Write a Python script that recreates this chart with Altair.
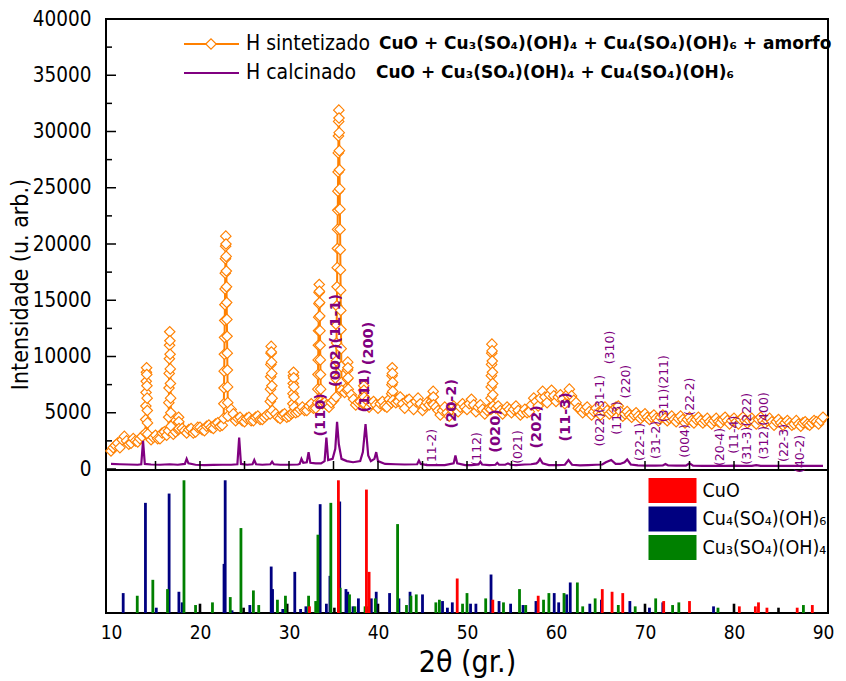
import altair as alt
import pandas as pd

ORANGE = "#FF8000"
PURPLE = "#800080"
FONT = "DejaVu Sans"
FONT_C = "DejaVu Sans Condensed"

# ---------------- H sintetizado (orange) ----------------
# background read every 0.5 deg from 10 to 90, and at the quarter points in between
BG_START, BG_STEP = 10.0, 0.5
sint_bg = [
    1600, 2100, 1900, 2900, 2200, 2700, 2400, 2900, 2800, 2600,
    3000, 2700, 3300, 3100, 3100, 3600, 3600, 3200, 3600, 3300,
    3700, 3400, 3900, 3600, 4100, 3900, 4300, 5300, 4300, 4600,
    4200, 4600, 4300, 4700, 4400, 4800, 4700, 4900, 4500, 4900,
    4700, 4900, 5100, 5500, 5200, 5800, 5400, 5600, 5900, 5500,
    6100, 6000, 7000, 7400, 6600, 5700, 6000, 6500, 5500, 6000,
    5400, 6000, 5500, 6000, 5900, 6400, 5400, 6200, 5300, 6300,
    5200, 5900, 6000, 5500, 4800, 5500, 4700, 5600, 5100, 5800,
    5300, 6200, 5100, 5700, 4900, 5400, 5200, 5600, 4900, 5500,
    5000, 5600, 4800, 5300, 5100, 6300, 5600, 6900, 5900, 7000,
    6000, 6600, 5800, 7100, 6100, 5400, 5000, 5500, 4800, 5400,
    4800, 5500, 4900, 5300, 5600, 4700, 5100, 4600, 5000, 4500,
    4900, 4400, 4800, 4300, 4800, 4300, 4700, 4200, 4700, 4100,
    4600, 4100, 4600, 4100, 4500, 4000, 4500, 4100, 4600, 4000,
    4500, 4000, 4600, 4100, 4500, 4000, 4600, 4100, 4500, 3900,
    4400, 3900, 4300, 3900, 4300, 3800, 4200, 3900, 4300, 4000,
    4600,
]
BG2_START = 10.25
sint_bg2 = [
    1900, 2300, 2600, 2500, 2300, 2500, 2700, 3000, 3000, 2800,
    2700, 3200, 3000, 3400, 3300, 3300, 3400, 3500, 3200, 3700,
    3500, 3800, 3700, 4000, 3800, 4400, 4600, 4900, 4500, 4300,
    4500, 4300, 4600, 4400, 4600, 4500, 4700, 4600, 4800, 4600,
    4900, 5000, 5300, 5200, 5600, 5400, 5700, 5800, 5700, 5900,
    6300, 6600, 6800, 8000, 6200, 5900, 6300, 6100, 5800, 5700,
    5800, 5600, 6200, 6300, 6000, 5800, 6100, 5700, 6000, 5800,
    5600, 5700, 6200, 5200, 5200, 5000, 5300, 5300, 5500, 5500,
    5800, 5700, 5500, 5300, 5200, 6000, 5400, 5200, 5200, 5300,
    5300, 5200, 5000, 5000, 5700, 6000, 6300, 6400, 6600, 6500,
    6400, 6200, 6600, 6500, 5900, 5300, 5300, 5100, 5100, 5000,
    5200, 5200, 5100, 5500, 5100, 4900, 4800, 4800, 4700, 4700,
    4600, 4600, 4500, 4600, 4500, 4500, 4400, 4500, 4400, 4400,
    4300, 4400, 4300, 4300, 4200, 4300, 4200, 4400, 4300, 4300,
    4200, 4400, 4300, 4300, 4200, 4400, 4300, 4300, 4200, 4200,
    4100, 4100, 4100, 4000, 4000, 4100, 4000, 4100, 4200, 4300,
]
# sharp peaks, read every 0.02 deg around each centre
PEAK_STEP = 0.02
peak_centers = [14.0, 16.6, 17.6, 22.9, 28.0, 30.5, 33.4, 35.6, 36.6, 38.4, 41.6, 46.2, 52.8]
peak_profiles = [
    [3200, 4400, 5600, 6800, 7800, 8600, 9000, 8400, 7400, 6300, 5200, 4100, 3100],
    [3400, 4600, 5900, 7200, 8500, 9800, 11000, 12200, 11400, 10200, 8900, 7600, 6300, 5000, 3800],
    [3500, 4100, 4600, 4200, 3600],
    [4500, 5800, 7200, 8700, 10200, 11700, 13200, 14600, 16000, 17400, 18700, 19800, 20700,
     20000, 18900, 17600, 16200, 14800, 13300, 11800, 10300, 8800, 7300, 5900, 4700],
    [4900, 6000, 7100, 8200, 9300, 10300, 10900, 10400, 9500, 8500, 7400, 6300, 5200],
    [5000, 5800, 6700, 7600, 8300, 8600, 8100, 7300, 6400, 5500],
    [5900, 7100, 8400, 9700, 11000, 12300, 13500, 14700, 15700, 16400, 15800, 14800, 13600,
     12300, 11000, 9700, 8400, 7100, 6000],
    [6400, 8000, 9600, 11200, 12800, 14500, 16200, 17900, 19600, 21300, 23000, 24700, 26400,
     28100, 29600, 30900, 31900, 31200, 29900, 28300, 26600, 24900, 23100, 21300, 19500,
     17700, 15900, 14100, 12400, 10700, 9100, 7700, 7000],
    [7000, 8000, 8800, 9500, 9000, 8100, 7100],
    [5800, 6500, 7000, 7400, 7000, 6400, 5800],
    [5900, 6700, 7500, 8300, 9000, 8500, 7700, 6900, 6100],
    [5800, 6400, 6900, 6400, 5700],
    [5300, 6300, 7300, 8300, 9300, 10300, 11100, 10500, 9600, 8600, 7600, 6600, 5600],
]

# ---------------- H calcinado (purple) ----------------
calc_x = [10.0, 11.0, 12.0, 13.0, 13.4, 13.6, 13.8, 14.5, 15.5, 16.6, 17.5, 18.3, 18.5, 18.7,
          19.5, 20.5, 21.5, 22.5, 23.5, 24.2, 24.4, 24.6, 25.3, 25.9, 26.1, 26.3, 27.0, 27.9,
          28.1, 28.3, 29.0, 30.0, 31.0, 31.2, 31.4, 31.6, 32.0, 32.2, 32.4, 33.0, 33.6, 34.0,
          34.2, 34.4, 34.9, 35.2, 35.4, 35.6, 35.9, 36.5, 37.2, 38.0, 38.3, 38.6, 38.9, 39.2,
          39.6, 39.8, 40.0, 40.8, 42.0, 43.0, 44.4, 44.6, 44.8, 45.5, 46.5, 47.5, 48.5, 48.7,
          48.9, 49.8, 50.5, 51.3, 51.5, 51.7, 52.5, 53.2, 53.4, 53.6, 54.3, 54.6, 54.9, 55.5,
          56.5, 57.2, 57.8, 58.0, 58.2, 58.5, 59.2, 60.2, 61.0, 61.4, 61.8, 62.7, 63.6, 64.5,
          65.2, 65.6, 66.2, 66.7, 67.2, 67.7, 68.0, 68.4, 69.2, 70.2, 71.2, 72.0, 72.3, 72.6,
          73.5, 74.6, 75.0, 75.4, 76.5, 78.0, 79.0, 80.0, 81.0, 82.0, 82.5, 83.0, 84.5, 86.0,
          87.5, 89.0, 90.0]
calc_y = [450, 420, 400, 380, 420, 2500, 450, 400, 380, 420, 380, 450, 900, 500,
          380, 350, 360, 380, 380, 420, 2800, 450, 380, 420, 800, 420, 380, 420,
          650, 420, 380, 380, 400, 450, 900, 550, 600, 1500, 550, 500, 500, 700,
          2800, 800, 900, 1800, 4200, 2200, 900, 700, 600, 700, 1500, 4000, 1200, 700,
          900, 1500, 700, 450, 420, 400, 420, 750, 450, 350, 350, 350, 500, 1200,
          500, 350, 350, 400, 650, 400, 350, 380, 550, 380, 380, 500, 380, 350,
          400, 420, 500, 650, 900, 500, 350, 350, 380, 800, 380, 320, 350, 380,
          400, 600, 800, 450, 450, 600, 850, 400, 320, 300, 300, 320, 450, 320,
          300, 300, 500, 300, 280, 280, 280, 300, 280, 280, 350, 280, 270, 270,
          270, 270, 280]

# ---------------- Miller index labels ----------------
bold_lbl = ["(110)", "(002)(11-1)", "(111)", "(200)", "(20-2)", "(020)", "(202)", "(11-3)"]
bold_x = [33.6, 35.25, 38.5, 38.95, 48.3, 53.3, 57.9, 61.1]
bold_y = [4820, 11430, 6960, 11160, 5800, 3390, 3750, 4640]
reg_lbl = ["(11-2)", "(112)", "(021)", "(022)(31-1)", "(310)", "(113)", "(220)", "(22-1)",
           "(31-2)", "(311)(211)", "(004)", "(22-2)", "(20-4)", "(11-4)", "(31-3)(222)",
           "(312)(400)", "(22-3)", "(40-2)"]
reg_x = [46.1, 51.1, 55.7, 64.9, 66.1, 66.9, 67.9, 69.4, 71.2, 72.1, 74.5, 75.1, 78.4, 80.05,
         81.5, 83.4, 85.6, 87.4]
reg_y = [1875, 1790, 1960, 5180, 10800, 4550, 7770, 2410, 2590, 7140, 2500, 6430, 1960, 3040,
         3570, 3840, 2320, 1340]

# ---------------- reference patterns (bottom) ----------------
phases = ["CuO", "Cu₄(SO₄)(OH)₆", "Cu₃(SO₄)(OH)₄"]
phase_colors = ["#FF0000", "#000080", "#008000"]
cuo_pos = [32.3, 35.55, 38.7, 39.0, 48.9, 52.9, 58.0, 65.2, 66.3, 67.5, 72.1, 75.0, 80.6, 82.4,
           82.75, 83.7, 87.1, 88.8]
cuo_h = [5, 100, 93, 31, 26, 10, 13, 18, 16, 15, 9, 9, 5, 5, 8, 4, 4, 6]
bro_pos = [11.37, 13.87, 15.09, 16.53, 17.63, 18.0, 22.7, 22.83, 23.6, 25.6, 28.0, 28.15, 29.3,
           30.65, 31.3, 31.9, 33.5, 34.2, 34.6, 35.7, 36.4, 36.6, 37.2, 37.8, 39.25, 39.8, 41.3,
           42.35, 43.6, 45.0, 47.25, 47.8, 48.35, 50.4, 51.0, 52.7, 53.6, 54.9, 56.3, 57.75, 59.8,
           60.3, 61.2, 61.6, 63.8, 65.1, 68.3, 70.5, 72.0, 77.7]
bro_h = [15, 83, 4, 90, 16, 8, 37, 100, 2, 6, 35, 18, 3, 31, 3, 5, 82, 7, 28, 84, 18, 16, 5, 11,
         11, 16, 15, 11, 16, 14, 9, 4, 8, 7, 7, 29, 9, 7, 6, 9, 15, 8, 14, 23, 7, 10, 9, 4, 8, 5]
ant_pos = [12.95, 14.7, 16.35, 18.2, 19.5, 21.4, 23.4, 24.6, 26.0, 26.6, 28.7, 29.6, 32.2, 33.0,
           33.25, 34.7, 35.75, 36.8, 37.4, 38.55, 38.8, 39.7, 42.2, 43.2, 43.7, 44.3, 46.5, 46.9,
           49.5, 50.0, 52.1, 54.1, 55.9, 56.6, 58.6, 59.2, 60.9, 62.4, 63.0, 64.4, 67.0, 68.9,
           71.2, 73.1, 73.8, 78.2, 87.8]
ant_h = [13, 25, 18, 100, 6, 8, 12, 64, 17, 6, 10, 13, 13, 9, 59, 83, 19, 14, 5, 5, 5, 11, 67, 6,
         13, 14, 8, 10, 7, 15, 11, 8, 18, 6, 10, 15, 15, 23, 5, 11, 6, 5, 11, 6, 8, 4, 6]
other_pos = [20.0, 24.9, 29.8, 35.1, 40.0, 70.0, 80.0, 85.0]
other_h = [7, 4, 7, 4, 7, 7, 7, 4]

series_names = ["H sintetizado", "H calcinado"]
phase_text = ["CuO + Cu₃(SO₄)(OH)₄ + Cu₄(SO₄)(OH)₆ + amorfo",
              "CuO + Cu₃(SO₄)(OH)₄ + Cu₄(SO₄)(OH)₆"]

y_major = [0, 5000, 10000, 15000, 20000, 25000, 30000, 35000, 40000]
y_minor = [2500, 7500, 12500, 17500, 22500, 27500, 32500, 37500]
x_minor = [15, 20, 25, 30, 35, 40, 45, 50, 55, 60, 65, 70, 75, 80, 85]
x_labels = [10, 20, 30, 40, 50, 60, 70, 80, 90]

# ---------------- build tables ----------------
rows, spans = [], []
for c, prof in zip(peak_centers, peak_profiles):
    n = len(prof)
    for j, v in enumerate(prof):
        rows.append((round(c + (j - (n - 1) / 2) * PEAK_STEP, 3), v))
    spans.append((c, (n - 1) / 2 * PEAK_STEP + 0.15))
for start, vals in ((BG_START, sint_bg), (BG2_START, sint_bg2)):
    for i, v in enumerate(vals):
        xv = start + BG_STEP * i
        if all(abs(xv - c) >= r for c, r in spans):
            rows.append((xv, v))
sint = pd.DataFrame(rows, columns=["x", "y"]).sort_values("x").reset_index(drop=True)
sint["o"] = range(len(sint))
calc = pd.DataFrame({"x": calc_x, "y": calc_y})

ref_rows = []
for p, h in zip(bro_pos, bro_h):
    ref_rows.append((p, h, phases[1]))
for p, h in zip(ant_pos, ant_h):
    ref_rows.append((p, h, phases[2]))
for p, h in zip(cuo_pos, cuo_h):
    ref_rows.append((p, h, phases[0]))
ref = pd.DataFrame(ref_rows, columns=["pos", "h", "phase"])

# ---------------- layout (one plot area, two stacked y ranges) ----------------
W = 722
H_TOP = 450
BOT_TOP = 452
H_ALL = 594
xs = alt.Scale(domain=[10, 90], nice=False, zero=False)
ys = alt.Scale(domain=[0, 40000], nice=False, range=[H_TOP, 0])
bys = alt.Scale(domain=[0, 107], nice=False, range=[H_ALL, BOT_TOP])
one = pd.DataFrame({"k": [0]})

yaxis = alt.Axis(values=y_major, format="d", labelFont=FONT_C, labelFontSize=20.5,
                 labelColor="black", ticks=False, tickSize=0, domain=False, grid=False,
                 labelPadding=15,
                 title="Intensidade (u. arb.)", titleFont=FONT_C, titleFontSize=23,
                 titleFontWeight="normal", titleColor="black", titleAngle=270,
                 titleAlign="center", titleBaseline="middle", titleX=-86, titleY=265)
xaxis = alt.Axis(values=x_labels, labelFont=FONT_C, labelFontSize=19, labelColor="black",
                 ticks=False, tickSize=0, domain=False, grid=False, labelPadding=10,
                 title="2θ (gr.)", titleFont=FONT_C, titleFontSize=30,
                 titleFontWeight="normal", titleColor="black", titlePadding=5)

base = alt.Chart(sint)
o_line = base.mark_line(color=ORANGE, strokeWidth=2).encode(
    x=alt.X("x:Q", scale=xs, axis=xaxis),
    y=alt.Y("y:Q", scale=ys, axis=yaxis),
    order="o:Q")
o_pts = base.mark_point(shape="diamond", size=110, fill="white", fillOpacity=1,
                        stroke=ORANGE, strokeWidth=1.1, opacity=1).encode(
    x=alt.X("x:Q", scale=xs), y=alt.Y("y:Q", scale=ys, axis=None))
p_line = alt.Chart(calc).mark_line(color=PURPLE, strokeWidth=2.2).encode(
    x=alt.X("x:Q", scale=xs), y=alt.Y("y:Q", scale=ys, axis=None))

ymaj = alt.Chart(pd.DataFrame({"v": y_major})).mark_rule(color="black", strokeWidth=1.5).encode(
    y=alt.Y("v:Q", scale=ys, axis=None), x=alt.value(0), x2=alt.value(10))
ymin = alt.Chart(pd.DataFrame({"v": y_minor})).mark_rule(color="black", strokeWidth=1.5).encode(
    y=alt.Y("v:Q", scale=ys, axis=None), x=alt.value(0), x2=alt.value(6))
xmin = alt.Chart(pd.DataFrame({"v": x_minor})).mark_rule(color="black", strokeWidth=1.5).encode(
    x=alt.X("v:Q", scale=xs), y=alt.value(H_TOP), y2=alt.value(H_TOP - 8))
sep = alt.Chart(one).mark_rule(color="black", strokeWidth=2).encode(
    x=alt.value(0), x2=alt.value(W), y=alt.value(H_TOP + 1))

bold_t = alt.Chart(pd.DataFrame({"t": bold_lbl, "x": bold_x, "y": bold_y})).mark_text(
    angle=270, align="center", baseline="middle", font=FONT, fontWeight="bold",
    fontSize=14.5, color=PURPLE).encode(
    x=alt.X("x:Q", scale=xs), y=alt.Y("y:Q", scale=ys, axis=None), text="t:N")
reg_t = alt.Chart(pd.DataFrame({"t": reg_lbl, "x": reg_x, "y": reg_y})).mark_text(
    angle=270, align="center", baseline="middle", font=FONT, fontSize=12.5,
    color=PURPLE).encode(
    x=alt.X("x:Q", scale=xs), y=alt.Y("y:Q", scale=ys, axis=None), text="t:N")

leg = []
for row, (col, yy) in enumerate([(ORANGE, 25), (PURPLE, 54)]):
    leg.append(alt.Chart(one).mark_rule(color=col, strokeWidth=2).encode(
        x=alt.value(78), x2=alt.value(133), y=alt.value(yy)))
    leg.append(alt.Chart(one).mark_text(text=series_names[row], align="left", baseline="middle",
                                        font=FONT_C, fontSize=21, color="black").encode(
        x=alt.value(140), y=alt.value(yy)))
    leg.append(alt.Chart(one).mark_text(text=phase_text[row], align="left", baseline="middle",
                                        font=FONT, fontWeight="bold", fontSize=17,
                                        color="black").encode(
        x=alt.value(273 if row == 0 else 270), y=alt.value(yy)))
leg.append(alt.Chart(one).mark_point(shape="diamond", size=110, fill="white", fillOpacity=1,
                                     stroke=ORANGE, strokeWidth=1.1, opacity=1).encode(
    x=alt.value(105), y=alt.value(25)))

other = alt.Chart(pd.DataFrame({"pos": other_pos, "h": other_h})).mark_bar(
    size=2.6, color="black").encode(
    x=alt.X("pos:Q", scale=xs), y=alt.Y("h:Q", scale=bys, axis=None))
bars = alt.Chart(ref).mark_bar(size=2.8).encode(
    x=alt.X("pos:Q", scale=xs),
    y=alt.Y("h:Q", scale=bys, axis=None),
    color=alt.Color("phase:N", scale=alt.Scale(domain=phases, range=phase_colors),
                    legend=alt.Legend(title=None, orient="none", legendX=554, legendY=459,
                                      symbolType="M-1.92,-1H1.92V1H-1.92Z", symbolSize=625,
                                      symbolStrokeWidth=0, symbolOpacity=1,
                                      labelFont=FONT_C, labelFontSize=19.5, labelColor="black",
                                      labelOffset=17.5, rowPadding=3.5, padding=0,
                                      labelLimit=400)))

chart = alt.layer(
    other, bars, o_line, o_pts, p_line, ymaj, ymin, xmin, sep, bold_t, reg_t, *leg
).resolve_scale(y="independent").properties(
    width=W, height=H_ALL,
    padding={"left": 9, "top": 9, "right": 10, "bottom": 2}, background="white"
).configure_view(stroke="black", strokeWidth=2)

chart.save("out.html", embed_options={"renderer": "svg", "actions": False})
